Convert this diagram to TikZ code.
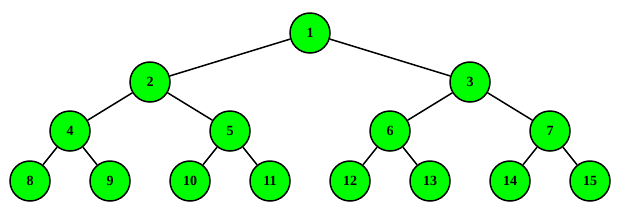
\documentclass[tikz,border=0pt]{standalone}
\usepackage{fontspec}
\setmainfont{Liberation Serif}
\begin{document}
\begin{tikzpicture}[x=1pt,y=-1pt,
  tnode/.style={circle,draw=black,line width=1.5pt,fill=green,minimum size=40pt,inner sep=0pt,font=\bfseries\fontsize{14}{16}\selectfont},
  edge/.style={draw=black,line width=1.5pt}]
\useasboundingbox (0,0) rectangle (620,210);
\node[tnode] (n1) at (310,33) {1};
\node[tnode] (n2) at (150,82) {2};
\node[tnode] (n3) at (470,82) {3};
\node[tnode] (n4) at (70,131) {4};
\node[tnode] (n5) at (230,131) {5};
\node[tnode] (n6) at (390,131) {6};
\node[tnode] (n7) at (550,131) {7};
\node[tnode] (n8) at (30,181) {8};
\node[tnode] (n9) at (110,181) {9};
\node[tnode] (n10) at (190,181) {10};
\node[tnode] (n11) at (270,181) {11};
\node[tnode] (n12) at (350,181) {12};
\node[tnode] (n13) at (430,181) {13};
\node[tnode] (n14) at (510,181) {14};
\node[tnode] (n15) at (590,181) {15};
\draw[edge] (n1) -- (n2);
\draw[edge] (n1) -- (n3);
\draw[edge] (n2) -- (n4);
\draw[edge] (n2) -- (n5);
\draw[edge] (n3) -- (n6);
\draw[edge] (n3) -- (n7);
\draw[edge] (n4) -- (n8);
\draw[edge] (n4) -- (n9);
\draw[edge] (n5) -- (n10);
\draw[edge] (n5) -- (n11);
\draw[edge] (n6) -- (n12);
\draw[edge] (n6) -- (n13);
\draw[edge] (n7) -- (n14);
\draw[edge] (n7) -- (n15);
\end{tikzpicture}
\end{document}
